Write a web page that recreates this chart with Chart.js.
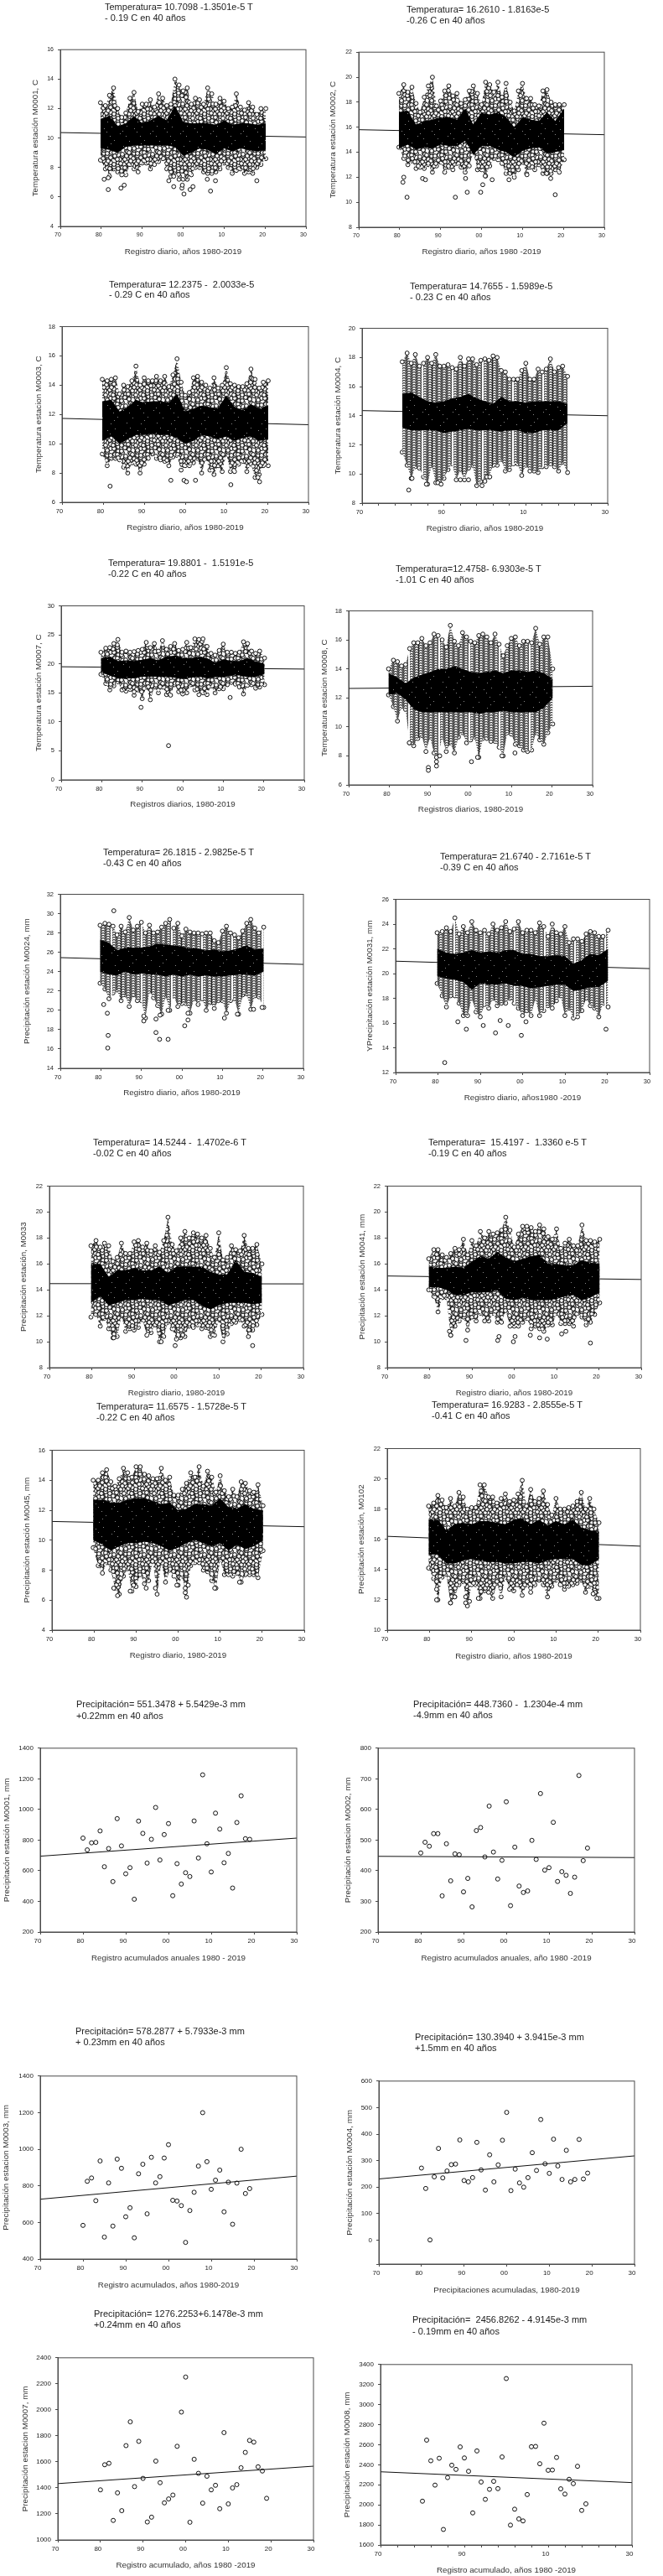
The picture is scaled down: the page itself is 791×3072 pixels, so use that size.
<!DOCTYPE html>
<html>
<head>
<meta charset="utf-8">
<title>Temperatura y precipitación</title>
<script src="https://cdn.jsdelivr.net/npm/chart.js@4"></script>
<style>
  html, body { margin: 0; padding: 0; background: #fff; }
  #page { position: relative; width: 791px; height: 3072px; overflow: hidden; filter: blur(0.35px); }
  #page canvas { position: absolute; }
  .head { position: absolute; font: 11px/13px "Liberation Sans", Arial, sans-serif; color: #222; white-space: pre; }
</style>
</head>
<body>
<div id="page"></div>
<script>
// years
const dailyYears = [1979.8,1981,1982,1983,1984,1985,1986,1987,1988,1989,1990,1991,1992,1993,1994,1995,1996,1997,1998,1999,2000,2001,2002,2003,2004,2005,2006,2007,2008,2009,2010,2011,2012,2013,2014,2015,2016,2017,2018,2019,2020.2];
const coreYears = [1979.8,1982,1984,1986,1988,1990,1992,1994,1996,1998,2000,2002,2004,2006,2008,2010,2012,2014,2016,2018,2020.2];
const annualYears = [1980,1981,1982,1983,1984,1985,1986,1987,1988,1989,1990,1991,1992,1993,1994,1995,1996,1997,1998,1999,2000,2001,2002,2003,2004,2005,2006,2007,2008,2009,2010,2011,2012,2013,2014,2015,2016,2017,2018,2019];
const trendYears = [1970, 2030];
const xTicks = [1970,1980,1990,2000,2010,2020,2030];
const xTicksFine = [1970,1974,1978,1982,1986,1990,1994,1998,2002,2006,2010,2014,2018,2022,2026,2030];
const xLabelsFine = [1970,1990,2010,2030];
const p0004Ticks = [-90,0,100,200,300,400,500,600];

// daily: outer edge of the cloud per year, solid core every two years, loose points
const m0001Top = [12.4,12.2,12.9,13.4,12,11.4,11.7,12.7,13.1,11.8,12.3,12.3,12.6,12.1,13,12.7,12.2,12.3,14,13.6,13.2,13.4,12.3,12.7,12.6,12.3,13.4,13,12.3,12.7,12.5,12,12.1,13,12.1,11.9,12.4,12.1,11.6,12,12];
const m0001Bot = [8.5,7.9,7.4,7.9,7.7,7.5,7.5,8.2,7.9,7.7,8.3,8.3,7.9,8.2,8.4,8.6,7.9,7.4,7.7,7.2,7.2,7.2,7.5,8,8,7.7,7.6,7.6,7.7,7.9,8.3,8,7.6,7.8,7.9,7.6,7.7,7.6,8,8.2,8.6];
const m0001CoreTop = [11.3,11.5,10.8,11,11.5,11,11.2,11.5,11.2,12.2,11.1,11,11,11,10.9,11.2,10.9,11,11,10.9,11];
const m0001CoreBot = [9.3,9.2,9,9.4,9.5,9.5,9.5,9.5,9.5,9.4,8.8,9,9.3,9.2,8.9,9.3,9.1,9.3,9.2,9.1,9.2];
const m0001Far = [[1980.7,7.2],[1981.7,6.5],[1981.7,7.3],[1984.8,6.6],[1985.6,6.8],[1996.5,7.1],[1997.7,6.7],[1997.7,7.4],[1999.7,6.6],[1999.8,6.8],[2000.2,6.2],[2001.7,6.5],[2002.4,6.7],[2005.9,7.2],[2006.7,6.4],[2007.9,7.1],[2018,7.1]];
const m0001Trend = [10.37,10.07];

const m0002Top = [18.7,19.4,18.8,19.2,17.9,17.2,18.4,19.3,20,17.7,18.1,18.9,19.3,18.5,18.7,17.9,18.2,18.9,19.3,18.7,17.8,19.6,19.4,18.8,19.6,18.4,19.5,18,17.3,18.9,19.5,18.3,18.3,17.8,17.7,18.9,19,18,17.8,17.8,17.8];
const m0002Bot = [14.4,13.5,13,13.3,12.7,12.8,12.7,13,12.4,12.9,13.2,12.4,12.8,12.6,13.1,12.8,12.4,12.9,14,12.6,12.6,12.1,12.9,13.5,13.4,13.1,12.3,12.3,12,12.6,13.2,12.3,12.8,12.6,13,12.3,12.3,12.3,12.6,12.4,13.4];
const m0002CoreTop = [17.2,17.3,16.2,16.5,16.6,16.8,16.8,16.6,17.5,16.2,17.2,17,17.2,16.8,16,16.8,16.6,16.5,17.2,16.5,17.5];
const m0002CoreBot = [14.3,14.6,14.2,14.4,14.3,14.6,14.5,14.5,14.9,13.8,14.5,14.5,14.2,14,13.6,14.1,14.3,14.4,13.9,14,14.2];
const m0002Far = [[1980.8,11.6],[1981,12],[1981.8,10.4],[1985.6,11.9],[1986.3,11.8],[1993.6,10.4],[1996.1,11.9],[1996.5,10.8],[1999.8,10.8],[2000.3,11.4],[2000.9,12.1],[2002.6,11.8],[2006.7,11.8],[2011.1,12.2],[2015.9,12.3],[2016.9,11.9],[2018,10.6]];
const m0002Trend = [15.8,15.4];

const m0003Top = [14.4,14.3,14.4,14.5,13.4,14,13.9,14.3,15.3,14,14.5,14.3,14.3,14.6,14.3,14.6,13.9,14.7,15.8,14.2,13.3,13.5,14.5,14.6,14.2,14,13.8,14.5,13.8,14,15.2,14.1,14,13.9,13.9,14.1,15.1,14.4,13.8,14.2,14.3];
const m0003Bot = [9.3,8.5,9,9,8.9,8.4,8,8.7,8.6,8,8.6,9,9.3,9,8.9,8.8,8.5,9.1,9.2,8.2,8.5,8.5,8.7,9,8,9,8.2,7.9,8.5,8.1,9.3,8.1,8.1,8.6,8.8,8.1,8.6,7.7,7.9,8.5,8.5];
const m0003CoreTop = [12.9,13,12.2,12.5,13,12.8,12.9,12.9,12.8,13.4,12.2,12.4,12.6,12.5,12.4,13.3,12.5,12.3,12.7,12.4,12.6];
const m0003CoreBot = [10.2,10.5,10,10.3,10.6,10.6,10.7,10.6,10.6,10.4,10,10.2,10.6,10.5,10.3,10.5,10.2,10.4,10.5,10.2,10.3];
const m0003Far = [[1981.7,7.1],[1996.5,7.5],[1999.7,7.5],[2000.3,7.4],[2002.5,7.5],[2011.1,7.2],[2018.1,7.4],[2017.7,7.7]];
const m0003Trend = [11.73,11.3];

const m0004Top = [17.7,18.3,17.6,18.2,17.4,17.6,18,17.6,18.2,17.4,17.4,17.5,17.3,17.2,18,17.4,17.9,17.9,17.5,17.8,17.9,17.8,18.1,18,17.1,17,16.5,16.5,16.5,17.1,17.6,16.5,16.5,17.2,17,17.2,17.9,17,17.3,17.4,16.7];
const m0004Bot = [11.5,10.6,9.7,10.5,10.4,9.8,9.3,10.6,9.4,9.4,9.7,10.3,10.7,9.6,10.3,9.6,10.4,10.6,9.2,9.5,9.8,9.8,10.6,10.6,11,10.2,10.3,10.7,10.7,9.9,10.6,10.2,10.2,10.1,10.5,10.5,10.7,10.5,10.2,10.8,10.1];
const m0004CoreTop = [15.5,15.6,15.3,15,14.9,15,15.2,15.3,15.5,15.2,15,14.8,15.3,15,15,14.9,15,15,15,15,14.8];
const m0004CoreBot = [13.2,13,13,13,13,12.8,12.9,13,13.1,13,13,13,12.9,13,13,12.8,12.8,13,13,13,13.5];
const m0004Far = [[1981.4,8.9],[1982.2,9.7],[1985.7,9.3],[1988.5,9.4],[1989.3,9.3],[1994,9.6],[1996,9.6],[1999.3,9.2],[2000,9.5],[2000.5,9.8],[2001.2,9.8]];
const m0004Trend = [14.35,14];

const m0007Top = [22,22.7,22.8,23.5,24.2,22,22.2,22,22.1,22.3,22.5,23.7,22.8,23.5,22.2,24,22.5,23,23.5,22.3,22.5,23.7,22.8,24.3,24.2,24.3,23,21.8,21.5,22.3,23.4,22,22,21.8,22,23.8,23.5,22.2,21.8,22.2,21];
const m0007Bot = [18.2,16.6,15.5,16.2,16.9,15.5,15.3,15.6,14.6,15.5,14,16,13.8,16,15,16,14.7,14.6,16.4,15.2,14.8,15,16.4,15.5,14.7,15,14.7,16.2,15,15.7,15.7,16.4,16.8,16.5,16,14.8,16.3,16.4,15.8,16,16.4];
const m0007CoreTop = [21,21.2,20.5,20.6,20.5,20.7,21,20.6,21.3,21.4,21,21,21.2,21,20.2,20.8,20.5,20.5,21,20.4,20];
const m0007CoreBot = [18.5,18,17.5,17.5,17.5,17.8,17.8,17.8,17.8,17.6,17.4,17.6,17.8,17.5,17.7,17.7,18,18,17.7,17.8,18.2];
const m0007Far = [[1989.7,12.5],[1996.5,5.9],[2011.7,14.2]];
const m0007Trend = [19.5,19.1];

const m0008Top = [14,14.6,14.5,14.2,14.3,15.4,15.8,15.8,16.1,15.6,15.8,16.4,16.3,16,15.5,17,15.9,15.6,16.5,16.2,15.9,15.8,16.3,16.4,16.2,15.8,16.4,15.7,14.9,15.6,16.1,16.2,15.6,15.9,15.9,15.8,16.8,15.7,16.2,16.2,14];
const m0008Bot = [12.2,11.4,10.4,11.4,11.2,8.9,8.7,9.2,9.4,8.3,9.3,8.2,8,9.3,8.3,8.9,8.2,9.3,9.6,8.9,9.1,9.3,7.9,9.2,9.2,9,9,8.6,8,9.6,9.5,8.8,8.7,8.4,8.3,8.4,9.6,9.1,8.8,9.6,10.2];
const m0008CoreTop = [13.7,13.4,13,13.4,13.6,13.8,14,14,14.2,14,13.8,13.7,13.8,13.9,13.7,13.9,13.9,13.8,13.9,13.7,13.3];
const m0008CoreBot = [12.2,12.3,11.9,11.2,11,11,11,11,11,11,11,10.9,11,11,11.1,11,11,11,11,11.3,12];
const m0008Far = [[1989.6,7.2],[1989.6,7],[1991.6,7.3],[1991.6,7.6],[1991.6,7.9],[1992.4,8],[2000.2,7.6],[2001.7,7.9],[2007.7,8],[2010.9,8.2],[1984.9,8.9]];
const m0008Trend = [12.65,12.8];

const m0024Top = [28.8,29,28.9,28.7,27.8,28.7,28.1,29.6,28.3,28.7,29.1,28,28.8,28,28.1,28.6,29,29.4,28.5,29,27.7,28.4,28.1,28,28,27.9,28,28,27.2,27,28.2,28.7,28,27.8,27.5,28.2,29,29.4,28.5,28,28.6];
const m0024Bot = [22.8,22.2,21.2,21.8,22.1,21,21.6,20.4,21.6,21,21,19.2,22,21.3,20.5,19.6,21.5,20,21.5,20.4,20.7,20.7,19.7,21.2,20.6,21.2,20,20.8,20.2,21,21,19.7,21,21.2,19.6,21.6,21.7,20.1,21.5,21.4,20.3];
const m0024CoreTop = [27.3,27,26.2,26.5,26.5,26.5,26.6,26.9,26.8,26.7,26.6,26.4,26.4,26.2,26.3,26.1,26.2,26.4,26.7,26.3,26.4];
const m0024CoreBot = [24,23.7,23.6,24,23.7,23.8,23.7,23.7,23.5,23.7,23.5,23.7,23.5,23.6,23.5,23.5,23.6,23.7,23.7,23.6,24];
const m0024Far = [[1983.2,30.3],[1980.7,20.6],[1981.6,19.7],[1981.8,17.4],[1981.7,16.1],[1990.6,19.4],[1990.6,18.9],[1993.6,19.1],[1993.6,17.7],[1994.5,17],[1994.6,19.5],[1996.6,17],[1996.6,20],[2000.7,18.4],[2001.5,19],[2001.5,19.7],[2010.5,19.2],[2013.7,19.6],[2017.7,20.1],[2019.8,20.3]];
const m0024Trend = [25.45,24.75];

const m0031Top = [23.3,23.4,23.7,23.4,24.5,23.2,23.8,23.3,24.2,23.5,23.3,23.5,23.2,24,23.5,23.7,24.2,23.4,23.6,24.2,23.3,23.5,23.5,23.3,24.1,23.8,23,24,23.3,23.2,23.8,22.5,22.8,22.8,22.6,23.2,23.4,23.3,23,23,23.5];
const m0031Bot = [19.2,18.2,17.3,18.2,18.2,17.6,16.6,16.6,18,16.9,16.5,17.5,17.2,18,17.4,17.6,17.6,18,17.6,17.2,16.6,17,16.6,18,16.6,17,17.4,17.2,17.8,18.2,16.6,17.2,16.4,16.5,17,18,17.4,17.2,16.5,17.6,17.3];
const m0031CoreTop = [22,21.7,21.6,21.7,21.9,21.7,21.8,21.7,21.9,21.9,21.6,21.6,21.4,21.4,21.5,21.4,20.8,21.1,21.6,21.5,22];
const m0031CoreBot = [19.8,19.6,19.5,19.3,18.7,19.2,19.1,19.1,19.2,19,19,18.8,18.9,19,19.1,19.1,18.6,18.7,18.9,18.9,19.4];
const m0031Far = [[1981.6,12.8],[1984.7,16.1],[1986.7,15.5],[1990.7,15.8],[1993.6,15.2],[1994.7,16.2],[1996.6,15.8],[1999.7,15],[2000.8,16.1],[2019.7,15.5]];
const m0031Trend = [21,20.4];

const m0033Top = [17.4,17.8,17.3,17.6,17.4,16.2,16.5,17.6,16.8,16.8,17.7,17.8,17.3,17.6,17,17.4,16.9,17.8,19.6,17.5,17,18,18.5,18,18.4,18.3,18,18.2,17.2,16.5,18.4,16.3,16.5,17.4,17.1,17,18.2,17.2,17.2,17.5,16];
const m0033Bot = [11.9,12.1,11.2,11.8,11,10.3,10.4,12,10.8,11,10.9,11.1,11.7,10.5,10.7,11.3,10,10.4,11.5,11,10.2,10.3,10.4,11.2,11.1,11.3,11,11.1,10.4,10.5,11.7,10,10.6,11.4,11.5,11.7,11.2,10.4,10.9,11.3,12.1];
const m0033CoreTop = [16,16,15,15.5,15.5,15.7,15.5,15.5,15.8,15.3,15.8,15.8,15.8,15.8,15.4,15.2,15.2,16.3,15.4,15.3,15];
const m0033CoreBot = [13,13.5,12.8,13,13.2,13.2,13.3,13.2,13.2,12.8,13,13.2,13.2,12.8,12.5,12.8,13,13,13,12.9,13];
const m0033Far = [[1999.7,9.7],[2018,9.7],[1996.4,10],[1985.2,10.3]];
const m0033Trend = [14.48,14.46];

const m0041Top = [16.4,17.1,17.1,16.7,16.5,16.8,17.2,17.1,17.9,16.7,17.8,17.4,18.5,18,18.5,18.3,18.4,18.6,19.6,18.6,17.3,18.3,18.9,18.9,18.8,18.5,19,18.7,18.1,17.9,18.7,17.2,17.6,17.9,17.4,17.4,19,17.8,17.8,17.7,17.9];
const m0041Bot = [14,13.5,12.3,13.4,13.4,10.5,11.2,11.6,11.9,10.9,11.9,11.6,12.2,11.6,11.6,12.2,11.5,11.5,12.4,11.2,11.2,11.2,11.5,11.8,11,11.2,11,10.8,11.3,11.3,12.2,11.4,11.4,11.4,11.2,12.2,11.9,11.3,11.5,12.1,13];
const m0041CoreTop = [15.8,15.7,15.7,15.8,15.7,16.2,16.6,16.4,16.9,16.5,16.2,16.4,16.6,16.7,16,16,15.9,15.9,16.3,16.1,16];
const m0041CoreBot = [14.2,14.2,14,13.6,13.6,13.8,13.8,13.8,14,13.3,13.2,13.4,13.2,13.2,13.2,13.3,13.5,13.6,13.2,13.4,13.8];
const m0041Far = [[1984.7,10.8],[1985,10.5],[1988.6,10.1],[1996.1,10.1],[1996.4,10.4],[1999.8,10],[2000.2,10.4],[2003.8,10.5],[2006,10.3],[2007.8,10.2],[2011.2,10.6],[2012.2,10.8],[2018,9.9]];
const m0041Trend = [15.07,14.8];

const m0045Top = [14,14,14.5,14.7,13.9,13.6,14.1,14.8,14.5,14.2,14.9,14.9,14.4,14.3,14.1,14.1,14.8,14,14.2,13,13,13.4,13.8,14.5,14.2,14.9,13.6,14.6,14.2,13.2,14.3,13.3,12.9,13.4,12.9,13.9,13.8,13.3,13.2,13.7,12.3];
const m0045Bot = [9.5,8.3,7.8,8.5,8,6.8,6.4,7.6,8.1,6.6,6.9,7.7,7.1,7.3,8.6,6.4,8.5,7.2,8,7.6,7,7.6,6.2,8.3,8.5,8.5,8,7.9,7.3,6.8,8.7,7.7,7.7,7.6,7.8,7.2,7.7,7.7,7.7,7.5,9.3];
const m0045CoreTop = [12.7,12.7,12.5,12.5,12.7,12.8,12.8,12.6,12.4,12.5,12,12.1,12.4,12.4,12.3,12.8,12.2,12.1,12.4,12.1,12];
const m0045CoreBot = [10,9.7,9.3,9.6,9.8,9.8,9.9,9.8,9.6,9.3,9.5,9.8,10,9.8,9.6,9.8,9.3,9.7,9.4,9.6,10];
const m0045Far = [[1984.7,6.8],[1985.6,6.3],[1988.6,6.6],[1989.4,7],[1992.4,6.8],[1994.6,6.8],[1999.7,7],[2001.7,6.5],[2001.7,6.8],[2002.4,7],[2008.7,6.8],[2014.6,7.2]];
const m0045Trend = [11.25,10.9];

const m0102Top = [18.2,18.4,18.9,18.6,18.1,18.7,18.2,19.1,18.8,18,18.1,18.1,19.6,19.6,18.8,18.8,18.4,18.7,19,18.5,18.6,19,19.9,18.2,19.3,18.5,18.7,19.2,18.3,17.6,18.7,18,18,18.1,18.2,18.5,19.1,18,18.7,18,17.1];
const m0102Bot = [14.1,13.4,12,13.5,13.7,11.8,12.2,13,13.2,11.6,13,13,12.1,12.6,12.5,12.1,13.1,12.2,13.5,12.7,12.6,13,12.3,13,12.5,13,13.3,13,12.2,12.9,13.3,13,12.7,12.9,13,13.1,13.3,12.5,12.9,12.4,12.1];
const m0102CoreTop = [17.3,17.3,16.6,17,17.1,17,17.2,17.2,17.1,17,17.3,17.4,17,17.3,16.9,17.2,17,17.3,16.8,16.6,16.5];
const m0102CoreBot = [15,15,14.4,14.4,14.6,14.7,14.6,14.5,14.5,14.4,14.4,14.5,14.5,14.4,14.6,14.7,14.7,14.7,14.3,14.3,14.7];
const m0102Far = [[1981.7,12.7],[1981.7,12],[1985,11.8],[1986,12.2],[1988.6,11.8],[1988.6,12.2],[1989.5,11.9],[1991.6,12.1],[2018.8,12.4],[2019.7,12.1]];
const m0102Trend = [16.2,15.55];

// annual totals, 1980-2019
const p0001 = [813,736,782,785,860,626,745,529,940,762,580,620,414,924,844,650,805,1013,670,836,908,437,646,513,587,562,925,683,1226,776,592,976,872,652,713,487,915,1089,809,805];
const p0001Trend = [695,813];
const p0002 = [458,493,480,521,521,318,488,367,455,452,331,375,282,531,541,445,611,461,373,434,625,286,477,350,329,334,499,437,652,402,410,558,365,397,385,326,379,711,433,474];
const p0002Trend = [447,443];
const p0003 = [584,825,843,719,936,520,816,580,946,896,631,680,516,866,918,647,956,816,850,952,1025,721,717,692,491,665,765,908,1200,932,781,831,886,658,820,590,815,1000,758,785];
const p0003Trend = [727,853];
const p0004 = [272,195,1,239,346,235,261,285,287,378,225,220,236,369,265,189,322,220,284,377,482,187,268,216,200,236,330,263,455,288,252,381,280,229,339,220,229,380,231,253];
const p0004Trend = [231,318];
const p0007 = [1385,1578,1589,1150,1362,1225,1725,1908,1410,1758,1473,1138,1175,1606,1440,1285,1315,1345,1720,1983,2252,1136,1620,1512,1283,1490,1385,1420,1240,1825,1277,1400,1425,1555,1673,1765,1752,1562,1530,1320];
const p0007Trend = [1433,1567];
const p0008 = [2037,2646,2440,2197,2465,1755,2272,2396,2354,2578,2468,2335,1920,2538,2228,2055,2155,2235,2162,2478,3260,1798,1957,1860,1840,2103,2580,2583,2410,2815,2345,2348,2473,2160,2108,2255,2212,2385,1945,2010];
const p0008Trend = [2330,2222];

// box = plot left, right, top, bottom; yx = centre of y title; tx,ty = heading; xd = x title below plot
const panels = [
  {d:[m0001Top,m0001Bot,m0001CoreTop,m0001CoreBot,m0001Far], trend:m0001Trend, y:[4,16,2], box:[72,365,58,270], yx:42, xd:30, tick:7, head:['Temperatura= 10.7098 -1.3501e-5 T','- 0.19 C en 40 años'], tx:125, ty:[8,21], yt:'Temperatura estación M0001, C', xt:'Registro diario, años 1980-2019'},
  {d:[m0002Top,m0002Bot,m0002CoreTop,m0002CoreBot,m0002Far], trend:m0002Trend, y:[8,22,2], box:[428,721,61,271], yx:397, xd:29, tick:7, head:['Temperatura= 16.2610 - 1.8163e-5','-0.26 C en 40 años'], tx:485, ty:[11,24], yt:'Temperatura estación M0002, C', xt:'Registro diario, años 1980 -2019'},
  {d:[m0003Top,m0003Bot,m0003CoreTop,m0003CoreBot,m0003Far], trend:m0003Trend, y:[6,18,2], box:[74,368,388,599], yx:46, xd:30, tick:7.5, head:['Temperatura= 12.2375 -  2.0033e-5','- 0.29 C en 40 años'], tx:130, ty:[339,351], yt:'Temperatura estacion M0003, C', xt:'Registro diario, años 1980-2019'},
  {d:[m0004Top,m0004Bot,m0004CoreTop,m0004CoreBot,m0004Far], trend:m0004Trend, y:[8,20,2], box:[432,725,390,600], yx:403, xd:30, tick:7.5, fine:true, columns:true, head:['Temperatura= 14.7655 - 1.5989e-5','- 0.23 C en 40 años'], tx:489, ty:[341,354], yt:'Temperatura estación M0004, C', xt:'Registro diario, años 1980-2019'},
  {d:[m0007Top,m0007Bot,m0007CoreTop,m0007CoreBot,m0007Far], trend:m0007Trend, y:[0,30,5], box:[73,363,721,930], yx:46, xd:29, tick:7.5, head:['Temperatura= 19.8801 -  1.5191e-5','-0.22 C en 40 años'], tx:129, ty:[671,684], yt:'Temperatura estación M0007, C', xt:'Registros diarios, 1980-2019'},
  {d:[m0008Top,m0008Bot,m0008CoreTop,m0008CoreBot,m0008Far], trend:m0008Trend, y:[6,18,2], box:[416,707,727,936], yx:387, xd:29, tick:7.5, columns:true, head:['Temperatura=12.4758- 6.9303e-5 T','-1.01 C en 40 años'], tx:472, ty:[678,691], yt:'Temperatura estacion M0008, C', xt:'Registros diarios, 1980-2019'},
  {d:[m0024Top,m0024Bot,m0024CoreTop,m0024CoreBot,m0024Far], trend:m0024Trend, y:[14,32,2], box:[72,362,1065,1274], yx:32, xd:29, tick:7.5, columns:true, head:['Temperatura= 26.1815 - 2.9825e-5 T','-0.43 C en 40 años'], tx:123, ty:[1016,1029], yt:'Precipitación estación M0024, mm', xt:'Registro diario, años 1980-2019'},
  {d:[m0031Top,m0031Bot,m0031CoreTop,m0031CoreBot,m0031Far], trend:m0031Trend, y:[12,26,2], box:[472,775,1071,1279], yx:441, xd:30, tick:7.5, columns:true, head:['Temperatura= 21.6740 - 2.7161e-5 T','-0.39 C en 40 años'], tx:525, ty:[1021,1034], yt:'YPrecipitación estación M0031, mm', xt:'Registro diario, años1980 -2019'},
  {d:[m0033Top,m0033Bot,m0033CoreTop,m0033CoreBot,m0033Far], trend:m0033Trend, y:[8,22,2], box:[59,362,1413,1631], yx:28, xd:30, tick:7.5, head:['Temperatura= 14.5244 -  1.4702e-6 T','-0.02 C en 40 años'], tx:111, ty:[1362,1375], yt:'Precipitación estación, M0033', xt:'Registro diario, 1980-2019'},
  {d:[m0041Top,m0041Bot,m0041CoreTop,m0041CoreBot,m0041Far], trend:m0041Trend, y:[8,22,2], box:[462,765,1413,1631], yx:432, xd:30, tick:7.5, head:['Temperatura=  15.4197 -  1.3360 e-5 T','-0.19 C en 40 años'], tx:511, ty:[1362,1375], yt:'Precipitación estación M0041, mm', xt:'Registro diario, años 1980-2019'},
  {d:[m0045Top,m0045Bot,m0045CoreTop,m0045CoreBot,m0045Far], trend:m0045Trend, y:[4,16,2], box:[62,363,1728,1944], yx:32, xd:30, tick:7.5, head:['Temperatura= 11.6575 - 1.5728e-5 T','-0.22 C en 40 años'], tx:115, ty:[1677,1690], yt:'Precipitación estación M0045, mm', xt:'Registro diario, 1980-2019'},
  {d:[m0102Top,m0102Bot,m0102CoreTop,m0102CoreBot,m0102Far], trend:m0102Trend, y:[10,22,2], box:[462,764,1726,1944], yx:431, xd:31, tick:7.5, head:['Temperatura= 16.9283 - 2.8555e-5 T','-0.41 C en 40 años'], tx:515, ty:[1675,1688], yt:'Precipitación estación, M0102', xt:'Registro diario, años 1980-2019'},
  {a:p0001, trend:p0001Trend, y:[200,1400,200], box:[48,354,2083,2304], yx:8, xd:31, tick:8, head:['Precipitación= 551.3478 + 5.5429e-3 mm','+0.22mm en 40 años'], tx:91, ty:[2032,2046], yt:'Precipitacón estación M0001, mm', xt:'Registro acumulados anuales 1980 - 2019'},
  {a:p0002, trend:p0002Trend, y:[200,800,100], box:[451,757,2083,2304], yx:415, xd:31, tick:8, head:['Precipitación= 448.7360 -  1.2304e-4 mm','-4.9mm en 40 años'], tx:493, ty:[2032,2045], yt:'Precipitación estacion M0002, mm', xt:'Registro acumulados anuales, año 1980 -2019'},
  {a:p0003, trend:p0003Trend, y:[400,1400,200], box:[48,354,2474,2694], yx:7, xd:31, tick:8, head:['Precipitación= 578.2877 + 5.7933e-3 mm','+ 0.23mm en 40 años'], tx:90, ty:[2422,2435], yt:'Precipitación estacion M0003, mm', xt:'Registro acumulados, años 1980-2019'},
  {a:p0004, trend:p0004Trend, y:[-90,600,100], yList:p0004Ticks, box:[452,757,2480,2700], yx:417, xd:31, tick:8, head:['Precipitación= 130.3940 + 3.9415e-3 mm','+1.5mm en 40 años'], tx:495, ty:[2429,2442], yt:'Precipitación estación M0004, mm', xt:'Precipitaciones acumuladas, 1980-2019'},
  {a:p0007, trend:p0007Trend, y:[1000,2400,200], box:[69,374,2810,3029], yx:30, xd:30, tick:8, head:['Precipitación= 1276.2253+6.1478e-3 mm','+0.24mm en 40 años'], tx:112, ty:[2759,2772], yt:'Precipitación estacion M0007, mm', xt:'Registro acumulado, años 1980 -2019'},
  {a:p0008, trend:p0008Trend, y:[1600,3400,200], box:[454,754,2818,3035], yx:414, xd:30, tick:8, fine:true, head:['Precipitación=  2456.8262 - 4.9145e-3 mm','- 0.19mm en 40 años'], tx:492, ty:[2766,2780], yt:'Precipitación estación M0008, mm', xt:'Registro acumulado, años 1980 -2019'}
];

const ink = '#111';
const axisInk = '#4a4a4a';
const labelFont = '"Liberation Sans", Arial, sans-serif';
const page = document.getElementById('page');

// texture for the overlapped part of a daily cloud
const tileSpots = [[3,4],[11,2],[20,5],[29,3],[7,10],[15,9],[25,11],[33,9],[2,16],[11,15],[19,17],[28,17],[6,22],[15,23],[23,22],[33,23],[10,28],[20,28],[28,27],[1,28],[16,13],[30,13],[24,1],[8,19],[35,19]];

function makeTile(w, h, paint) {
  const c = document.createElement('canvas');
  c.width = w; c.height = h;
  const g = c.getContext('2d');
  paint(g, w, h);
  return g.createPattern(c, 'repeat');
}

function ring(g, x, y) {
  g.beginPath();
  g.arc(x, y, 2.4, 0, Math.PI * 2);
  g.fillStyle = '#fff';
  g.fill();
  g.lineWidth = 1;
  g.strokeStyle = '#000';
  g.stroke();
}

const looseTile = () => makeTile(36, 30, (g, w, h) => {
  g.fillStyle = '#fff';
  g.fillRect(0, 0, w, h);
  // a second pass with a shift closes most of the white, as in the overlapped daily marks
  [[0, 0], [5, 7], [13, 3]].forEach(([sx, sy]) => {
    tileSpots.forEach(([x, y]) => {
      const px = (x + sx) % w, py = (y + sy) % h;
      [-w, 0, w].forEach(dx => [-h, 0, h].forEach(dy => ring(g, px + dx, py + dy)));
    });
  });
});

const columnTile = () => makeTile(36, 24, (g, w, h) => {
  g.fillStyle = '#fff';
  g.fillRect(0, 0, w, h);
  [2, 8, 13, 19, 25, 31].forEach((x, i) => {
    for (let y = -h + i; y < 2 * h; y += 3) ring(g, x, y);
  });
});

const coreTile = () => makeTile(36, 30, (g, w, h) => {
  g.fillStyle = '#000';
  g.fillRect(0, 0, w, h);
  g.fillStyle = '#888';
  tileSpots.forEach(([x, y], i) => {
    if (i % 2 === 0) g.fillRect(x, y, 1, 1);
  });
});

const framePlugin = {
  id: 'frame',
  afterDatasetsDraw(chart) {
    const a = chart.chartArea, g = chart.ctx;
    g.save();
    g.strokeStyle = axisInk;
    g.lineWidth = 1;
    g.strokeRect(a.left, a.top, a.right - a.left, a.bottom - a.top);
    g.restore();
  }
};

const zip = (xs, ys) => xs.map((x, i) => ({x, y: ys[i]}));

function trendSet(p) {
  return {data: zip(trendYears, p.trend), borderColor: ink, borderWidth: 1, pointRadius: 0, order: 9, fill: false};
}

function dailySets(p) {
  const [top, bot, coreTop, coreBot, far] = p.d;
  const tile = p.columns ? columnTile() : looseTile();
  const rim = {borderColor: 'transparent', borderWidth: 0, pointRadius: 2.4, pointBorderWidth: 1,
    pointBorderColor: ink, pointBackgroundColor: '#fff'};
  const inner = {borderColor: 'transparent', borderWidth: 0, pointRadius: 0};
  return [
    trendSet(p),
    Object.assign({data: zip(dailyYears, top), fill: '+1', order: 8, backgroundColor: tile}, rim),
    Object.assign({data: zip(dailyYears, bot), fill: false, order: 8}, rim),
    Object.assign({data: zip(coreYears, coreTop), fill: '+1', order: 7, backgroundColor: coreTile()}, inner),
    Object.assign({data: zip(coreYears, coreBot), fill: false, order: 7}, inner),
    {data: far.map(([x, y]) => ({x, y})), showLine: false, pointRadius: 2.4, pointBorderWidth: 1,
      pointBorderColor: ink, pointBackgroundColor: '#fff', order: 1}
  ];
}

function annualSets(p) {
  return [
    trendSet(p),
    {data: zip(annualYears, p.a), showLine: false, pointRadius: 2.5, pointBorderWidth: 1,
      pointBorderColor: ink, pointBackgroundColor: 'transparent', order: 1}
  ];
}

panels.forEach(p => {
  const [left, right, top, bottom] = p.box;
  const canvasLeft = p.yx - 6;
  const axisW = left - canvasLeft;
  const xH = p.xd + 6;
  const c = document.createElement('canvas');
  const padTop = 8, padRight = 14;
  c.width = axisW + (right - left) + padRight;
  c.height = padTop + (bottom - top) + xH;
  c.style.left = canvasLeft + 'px';
  c.style.top = (top - padTop) + 'px';
  page.appendChild(c);

  p.head.forEach((line, i) => {
    const d = document.createElement('div');
    d.className = 'head';
    d.textContent = line;
    d.style.left = p.tx + 'px';
    d.style.top = (p.ty[i] - 6.5) + 'px';
    page.appendChild(d);
  });

  new Chart(c.getContext('2d'), {
    type: 'line',
    data: {datasets: p.d ? dailySets(p) : annualSets(p)},
    options: {
      responsive: false,
      animation: false,
      events: [],
      layout: {padding: {top: padTop, right: padRight, left: 0, bottom: 0}},
      plugins: {legend: {display: false}, tooltip: {enabled: false}},
      scales: {
        x: {
          type: 'linear', min: 1970, max: 2030,
          afterBuildTicks: s => { s.ticks = (p.fine ? xTicksFine : xTicks).map(value => ({value})); },
          afterFit: s => { s.height = xH; },
          grid: {drawOnChartArea: false, tickLength: 3, tickColor: axisInk},
          border: {color: axisInk},
          ticks: {
            autoSkip: false, maxRotation: 0, padding: 3, labelOffset: -3,
            color: '#222', font: {family: labelFont, size: p.tick},
            callback: v => (!p.fine || xLabelsFine.includes(v)) ? String(v % 100).padStart(2, '0') : ''
          },
          title: {display: true, text: p.xt, color: '#333', padding: 0, font: {family: labelFont, size: 9.8}}
        },
        y: {
          min: p.y[0], max: p.y[1],
          afterBuildTicks: s => { if (p.yList) s.ticks = p.yList.map(value => ({value})); },
          afterFit: s => { s.width = axisW; },
          grid: {drawOnChartArea: false, tickLength: 3, tickColor: axisInk},
          border: {color: axisInk},
          ticks: {
            stepSize: p.y[2], padding: 5, color: '#222', font: {family: labelFont, size: p.tick},
            callback: v => v < 0 ? '' : v
          },
          title: {display: true, text: p.yt, color: '#333', padding: 0, font: {family: labelFont, size: 9.8}}
        }
      }
    },
    plugins: [framePlugin]
  });
});
</script>
</body>
</html>
